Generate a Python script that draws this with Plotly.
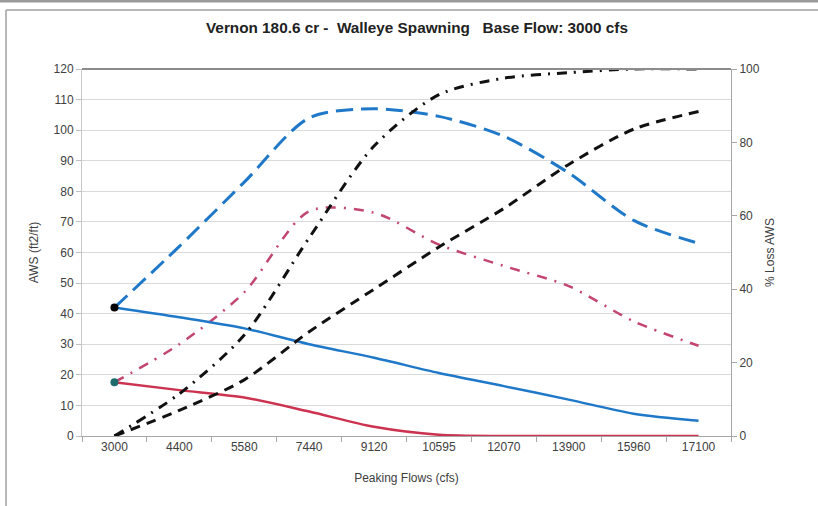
import plotly.graph_objects as go

flows = ["3000", "4400", "5580", "7440", "9120", "10595", "12070", "13900", "15960", "17100"]

# Left axis: AWS (ft2/ft)
aws_blue_solid = [42, 38.8, 35.2, 30, 25.6, 20.6, 16.3, 11.9, 7.3, 5]
aws_red_solid = [17.6, 15, 12.6, 8, 3, 0.4, 0, 0, 0, 0]
aws_blue_dash = [42, 62, 83, 104, 107, 104.5, 98, 86, 70.5, 63]
aws_pink_dashdot = [17.6, 30, 47, 73.5, 73, 62.6, 55.6, 49, 37.5, 29.5]

# Right axis: % Loss AWS
loss_dashdot = [0, 11.5, 27.5, 54, 79, 93, 97.5, 99, 100, 100]
loss_dash = [0, 7, 15.3, 28.4, 40, 51.5, 62, 74, 83.6, 88.4]

title_text = "Vernon 180.6 cr -  Walleye Spawning   Base Flow: 3000 cfs"

BLUE = "#1f78c8"
RED = "#cc3350"
PINK = "#c24670"
BLACK = "#111111"

fig = go.Figure()

fig.add_trace(go.Scatter(x=flows, y=aws_blue_dash, mode="lines",
                         line=dict(color=BLUE, width=3, dash="17px,8px", shape="spline", smoothing=0.8),
                         showlegend=False))
fig.add_trace(go.Scatter(x=flows, y=aws_pink_dashdot, mode="lines",
                         line=dict(color=PINK, width=2.5, dash="10px,8px,2px,8px", shape="spline", smoothing=0.8),
                         showlegend=False))
fig.add_trace(go.Scatter(x=flows, y=aws_blue_solid, mode="lines",
                         line=dict(color=BLUE, width=2.5, shape="spline", smoothing=0.8),
                         showlegend=False))
fig.add_trace(go.Scatter(x=flows, y=aws_red_solid, mode="lines",
                         line=dict(color=RED, width=2.5, shape="spline", smoothing=0.8),
                         showlegend=False))
fig.add_trace(go.Scatter(x=flows, y=loss_dashdot, mode="lines", yaxis="y2",
                         line=dict(color=BLACK, width=3, dash="10px,7px,2px,7px", shape="spline", smoothing=0.8),
                         showlegend=False))
fig.add_trace(go.Scatter(x=flows, y=loss_dash, mode="lines", yaxis="y2",
                         line=dict(color=BLACK, width=3, dash="10px,7px", shape="spline", smoothing=0.8),
                         showlegend=False))
# start markers
fig.add_trace(go.Scatter(x=flows[:1], y=aws_blue_solid[:1], mode="markers",
                         marker=dict(color="#000000", size=8), showlegend=False))
fig.add_trace(go.Scatter(x=flows[:1], y=aws_red_solid[:1], mode="markers",
                         marker=dict(color="#1d6b6b", size=8), showlegend=False))

tickfont = dict(family="Liberation Sans, Arial, sans-serif", size=12, color="#404040")
titlefont = dict(family="Liberation Sans Narrow, Liberation Sans, Arial, sans-serif", size=12, color="#404040")

fig.update_layout(
    width=818, height=506,
    margin=dict(l=82, r=87, t=69, b=70),
    paper_bgcolor="white", plot_bgcolor="white",
    title=dict(text="<b>" + title_text + "</b>", x=417 / 818, xref="container", xanchor="center",
               y=1 - 28 / 506, yanchor="middle",
               font=dict(family="Liberation Sans Narrow, Liberation Sans, Arial, sans-serif", size=15.3, color="#222222")),
    xaxis=dict(type="category", range=[-0.5, 9.5], automargin=False, showgrid=False, showline=True,
               linecolor="#a6a6a6", linewidth=1,
               ticks="outside", ticklen=5, tickcolor="#a6a6a6", tickson="boundaries",
               tickfont=tickfont, title=dict(text="Peaking Flows (cfs)", font=titlefont, standoff=20)),
    yaxis=dict(range=[0, 120], dtick=10, automargin=False, showgrid=True, gridcolor="#d9d9d9", gridwidth=1,
               showline=True, linecolor="#c8c8c8", ticks="outside", ticklen=5, tickcolor="#bfbfbf",
               tickfont=tickfont, zeroline=False,
               title=dict(text="AWS (ft2/ft)", font=titlefont, standoff=12)),
    yaxis2=dict(range=[0, 100], dtick=20, automargin=False, overlaying="y", side="right", showgrid=False,
                showline=True, linecolor="#a6a6a6", ticks="outside", ticklen=5, tickcolor="#a6a6a6",
                tickfont=tickfont, zeroline=False,
                title=dict(text="% Loss AWS", font=titlefont, standoff=6)),
    shapes=[
        dict(type="line", xref="paper", yref="paper", x0=0, x1=1, y0=1, y1=1,
             line=dict(color="#8c8c8c", width=2)),
        dict(type="line", xref="paper", yref="paper", x0=(6 - 82) / 649, x1=(818 - 82) / 649,
             y0=(436 - 10) / 367, y1=(436 - 10) / 367, line=dict(color="#a0a0a0", width=1.5)),
        dict(type="line", xref="paper", yref="paper", x0=(6 - 82) / 649, x1=(6 - 82) / 649,
             y0=(436 - 10) / 367, y1=(436 - 506) / 367, line=dict(color="#a0a0a0", width=1.5)),
        dict(type="line", xref="paper", yref="paper", x0=(0 - 82) / 649, x1=(818 - 82) / 649,
             y0=(436 - 1) / 367, y1=(436 - 1) / 367, line=dict(color="#9a9a9a", width=3)),
    ],
)

fig.write_html("out.html", config={"displayModeBar": False},
               post_script="document.body.style.margin='0';")
